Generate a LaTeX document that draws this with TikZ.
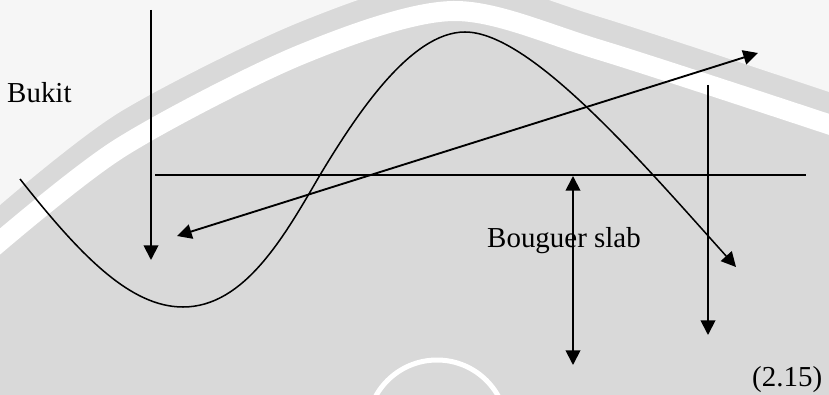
\documentclass[tikz,border=0pt]{standalone}
\usepackage{fontspec}
\setmainfont{Liberation Serif}
\usepackage{xcolor}
\definecolor{sheetGray}{HTML}{D9D9D9}
\definecolor{markWhite}{HTML}{F6F6F6}
\usepackage{tikz}
\usetikzlibrary{
    arrows.meta
}
\tikzset{
    % Base style for all black strokes
    sketch line/.style={
        draw=black,
        line width=1.6pt,
    },
    % Single arrow - filled triangle head
    arrow/.style={
        sketch line,
        -{Triangle[length=0.44cm, width=0.44cm]},
    },
    % Arrow with a head at each end
    double arrow/.style={
        sketch line,
        {Triangle[length=0.44cm, width=0.44cm]}-{Triangle[length=0.44cm, width=0.44cm]},
    },
    % Terrain profile
    terrain/.style={
        arrow,
        line width=1.3pt,
    },
    % Text labels
    label text/.style={
        font=\fontsize{24.7}{29.6}\selectfont,
        anchor=base west,
        inner sep=0pt,
    },
    % Watermark band
    mark band/.style={
        draw=white,
        line width=0.6cm,
        line cap=round,
    },
}

\begin{document}
\begin{tikzpicture}[x=0.03cm, y=-0.03cm]
    \useasboundingbox (0,0) rectangle (829,395);

    % watermark background
    \fill[sheetGray] (0,0) rectangle (829,395);
    \fill[markWhite] (0,0) -- plot[smooth] coordinates {(0,205) (120,112) (300,22) (453,-22) (600,17) (829,92)} -- (829,0) -- cycle;
    \draw[mark band] plot[smooth] coordinates {(-10,250) (120,148) (300,55) (453,11) (600,50) (840,128)};
    \draw[draw=white, line width=0.15cm] (437,430) circle (70);

    % labels
    \node (bukit) [label text] at (7,102) {Bukit};
    \node (slab) [label text] at (487,247) {Bouguer slab};
    \node (eqno) [label text] at (752,386) {(2.15)};

    % end points
    \coordinate (lefttop) at (151,10);
    \coordinate (lefttip) at (151,260);
    \coordinate (baseleft) at (155,175);
    \coordinate (baseright) at (806,175);
    \coordinate (rayleft) at (177,236);
    \coordinate (rayright) at (758,53);
    \coordinate (slabtop) at (573,176);
    \coordinate (slabbottom) at (573,365);
    \coordinate (righttop) at (708,85);
    \coordinate (righttip) at (708,335);

    % terrain profile
    \draw [terrain] (20,179) .. controls (80,255) and (130,307) .. (183,307)
        .. controls (245,307) and (285,235) .. (320,175)
        .. controls (355,117) and (410,32) .. (465,32)
        .. controls (530,32) and (640,160) .. (736,267);

    \draw [arrow] (lefttop) -- (lefttip);
    \draw [sketch line] (baseleft) -- (baseright);
    \draw [double arrow] (rayleft) -- (rayright);
    \draw [double arrow] (slabtop) -- (slabbottom);
    \draw [arrow] (righttop) -- (righttip);
\end{tikzpicture}
\end{document}
